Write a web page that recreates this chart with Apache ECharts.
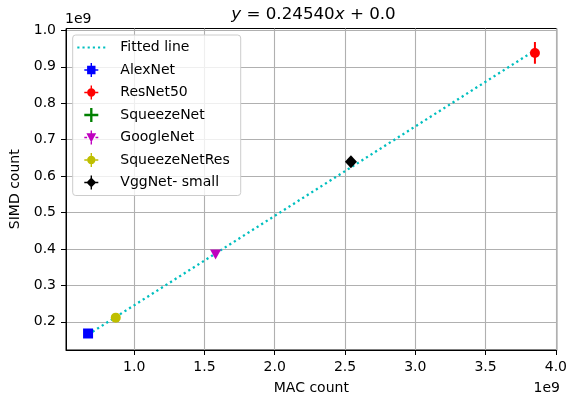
<!DOCTYPE html>
<html>
<head>
<meta charset="utf-8">
<script src="https://cdn.jsdelivr.net/npm/echarts@6/dist/echarts.min.js"></script>
<style>
html,body{margin:0;padding:0;background:#fff;}
#chart{width:570px;height:400px;}
</style>
</head>
<body>
<div id="chart"></div>
<script>
// ---- data (values in units of 1e9) ----
var xTicks = [1.0, 1.5, 2.0, 2.5, 3.0, 3.5, 4.0];
var yTicks = [0.2, 0.3, 0.4, 0.5, 0.6, 0.7, 0.8, 0.9, 1.0];
var netNames = ['AlexNet', 'ResNet50', 'SqueezeNet', 'GoogleNet', 'SqueezeNetRes', 'VggNet- small'];
var macCounts = [0.672, 3.851, 0.869, 1.579, 0.869, 2.542];
var simdCounts = [0.168, 0.938, 0.2115, 0.385, 0.2115, 0.639];
var simdErr = [0.0, 0.030, 0.0, 0.0, 0.0, 0.0];
var fitX = [0.672, 3.851];
var fitY = [0.165, 0.945];

var colors = ['#0000ff', '#ff0000', '#008000', '#bf00bf', '#bfbf00', '#000000'];
var symbols = [
  'rect',
  'circle',
  'path://M8 0H12V8H20V12H12V20H8V12H0V8H8Z',
  'path://M0 0H20L10 20Z',
  'circle',
  'diamond'
];
var sizes = [10, 10, 8, [11, 10], 10, [12, 13]];
var arms = 'M9 0H11V4H9Z M9 16H11V20H9Z M0 9H4V11H0Z M16 9H20V11H16Z ';
var legendIcons = [
  'path://' + arms + 'M4 4H16V16H4Z',
  'path://' + arms + 'M4 10A6 6 0 1 1 16 10A6 6 0 1 1 4 10Z',
  'path://M8.5 1H11.5V8.5H19V11.5H11.5V19H8.5V11.5H1V8.5H8.5Z',
  'path://' + arms + 'M3 4H17L10 17Z',
  'path://' + arms + 'M4 10A6 6 0 1 1 16 10A6 6 0 1 1 4 10Z',
  'path://' + arms + 'M10 3L17 10L10 17L3 10Z'
];
var dottedIcon = 'path://M0 0H2.2V2.2H0Z M5.3 0H7.5V2.2H5.3Z M10.6 0H12.8V2.2H10.6Z M15.9 0H18.1V2.2H15.9Z M21.2 0H23.4V2.2H21.2Z M26.5 0H28.7V2.2H26.5Z';

var series = [];
series.push({
  name: 'Fitted line',
  type: 'line',
  data: fitX.map(function (x, i) { return [x, fitY[i]]; }),
  showSymbol: false,
  symbol: 'none',
  lineStyle: { color: '#00bfbf', width: 2.3, type: [2.2, 3.2], cap: 'butt' },
  itemStyle: { color: '#00bfbf' },
  z: 2,
  silent: true
});
netNames.forEach(function (n, i) {
  if (simdErr[i] > 0) {
    series.push({
      name: n + '_err',
      type: 'line',
      data: [[macCounts[i], simdCounts[i] - simdErr[i]], [macCounts[i], simdCounts[i] + simdErr[i]]],
      symbol: 'none',
      lineStyle: { color: colors[i], width: 2 },
      z: 3,
      silent: true
    });
  }
  series.push({
    name: n,
    type: 'scatter',
    data: [[macCounts[i], simdCounts[i]]],
    symbol: symbols[i],
    symbolSize: sizes[i],
    itemStyle: { color: colors[i], opacity: 1 },
    z: 4,
    silent: true
  });
});

var legendData = [{ name: 'Fitted line', icon: dottedIcon, itemStyle: { color: '#00bfbf' } }].concat(netNames.map(function (n, i) {
  return { name: n, icon: legendIcons[i], itemStyle: { color: colors[i] } };
}));

var axisFont = { fontFamily: 'DejaVu Sans', fontSize: 14, color: '#000' };

var chart = echarts.init(document.getElementById('chart'), null, { renderer: 'canvas' });
chart.setOption({
  animation: false,
  backgroundColor: '#fff',
  title: {
    text: '{i|y} = 0.24540{i|x} + 0.0',
    left: 313.5,
    top: 6,
    padding: 0,
    textAlign: 'center',
    textStyle: {
      fontFamily: 'DejaVu Sans', fontSize: 16.7, fontWeight: 'normal', color: '#000',
      rich: { i: { fontFamily: 'DejaVu Sans', fontSize: 16.7, fontStyle: 'italic', color: '#000' } }
    }
  },
  grid: {
    left: 65, right: 8.5, top: 28.5, bottom: 49.5,
    show: true, borderColor: '#000', borderWidth: 1, backgroundColor: 'transparent',
    containLabel: false
  },
  legend: {
    orient: 'vertical',
    left: 72.7,
    top: 35,
    padding: [5.5, 11, 6, 4.6],
    itemWidth: 28,
    itemHeight: 14,
    itemGap: 8.5,
    backgroundColor: 'rgba(255,255,255,0.8)',
    borderColor: '#cccccc',
    borderWidth: 1,
    borderRadius: 3,
    selectedMode: false,
    textStyle: { fontFamily: 'DejaVu Sans', fontSize: 14, color: '#000', lineHeight: 14, padding: [0, 0, 0, 10] },
    data: legendData
  },
  xAxis: {
    type: 'value',
    min: 0.515,
    max: 4.006,
    name: 'MAC count',
    nameLocation: 'middle',
    nameGap: 31,
    nameTextStyle: axisFont,
    axisLine: { show: true, onZero: false, lineStyle: { color: '#000', width: 1 } },
    axisTick: { show: true, length: 5, lineStyle: { color: '#000', width: 1 }, customValues: xTicks },
    axisLabel: { show: true, margin: 10, customValues: xTicks, formatter: function (v) { return v.toFixed(1); }, fontFamily: 'DejaVu Sans', fontSize: 14, color: '#000' },
    splitLine: { show: true, lineStyle: { color: '#b0b0b0', width: 1.1 } }
  },
  yAxis: {
    type: 'value',
    min: 0.1227,
    max: 1.005,
    name: 'SIMD count',
    nameLocation: 'middle',
    nameGap: 44,
    nameTextStyle: axisFont,
    axisLine: { show: true, onZero: false, lineStyle: { color: '#000', width: 1 } },
    axisTick: { show: true, length: 5, lineStyle: { color: '#000', width: 1 }, customValues: yTicks },
    axisLabel: { show: true, margin: 10, customValues: yTicks, formatter: function (v) { return v.toFixed(1); }, fontFamily: 'DejaVu Sans', fontSize: 14, color: '#000' },
    splitLine: { show: true, lineStyle: { color: '#b0b0b0', width: 1.1 } }
  },
  graphic: [
    { type: 'text', left: 65, top: 12, style: { text: '1e9', fontFamily: 'DejaVu Sans', fontSize: 14, fill: '#000' } },
    { type: 'text', right: 10, top: 381, style: { text: '1e9', fontFamily: 'DejaVu Sans', fontSize: 14, fill: '#000' } }
  ],
  series: series
});
</script>
</body>
</html>
